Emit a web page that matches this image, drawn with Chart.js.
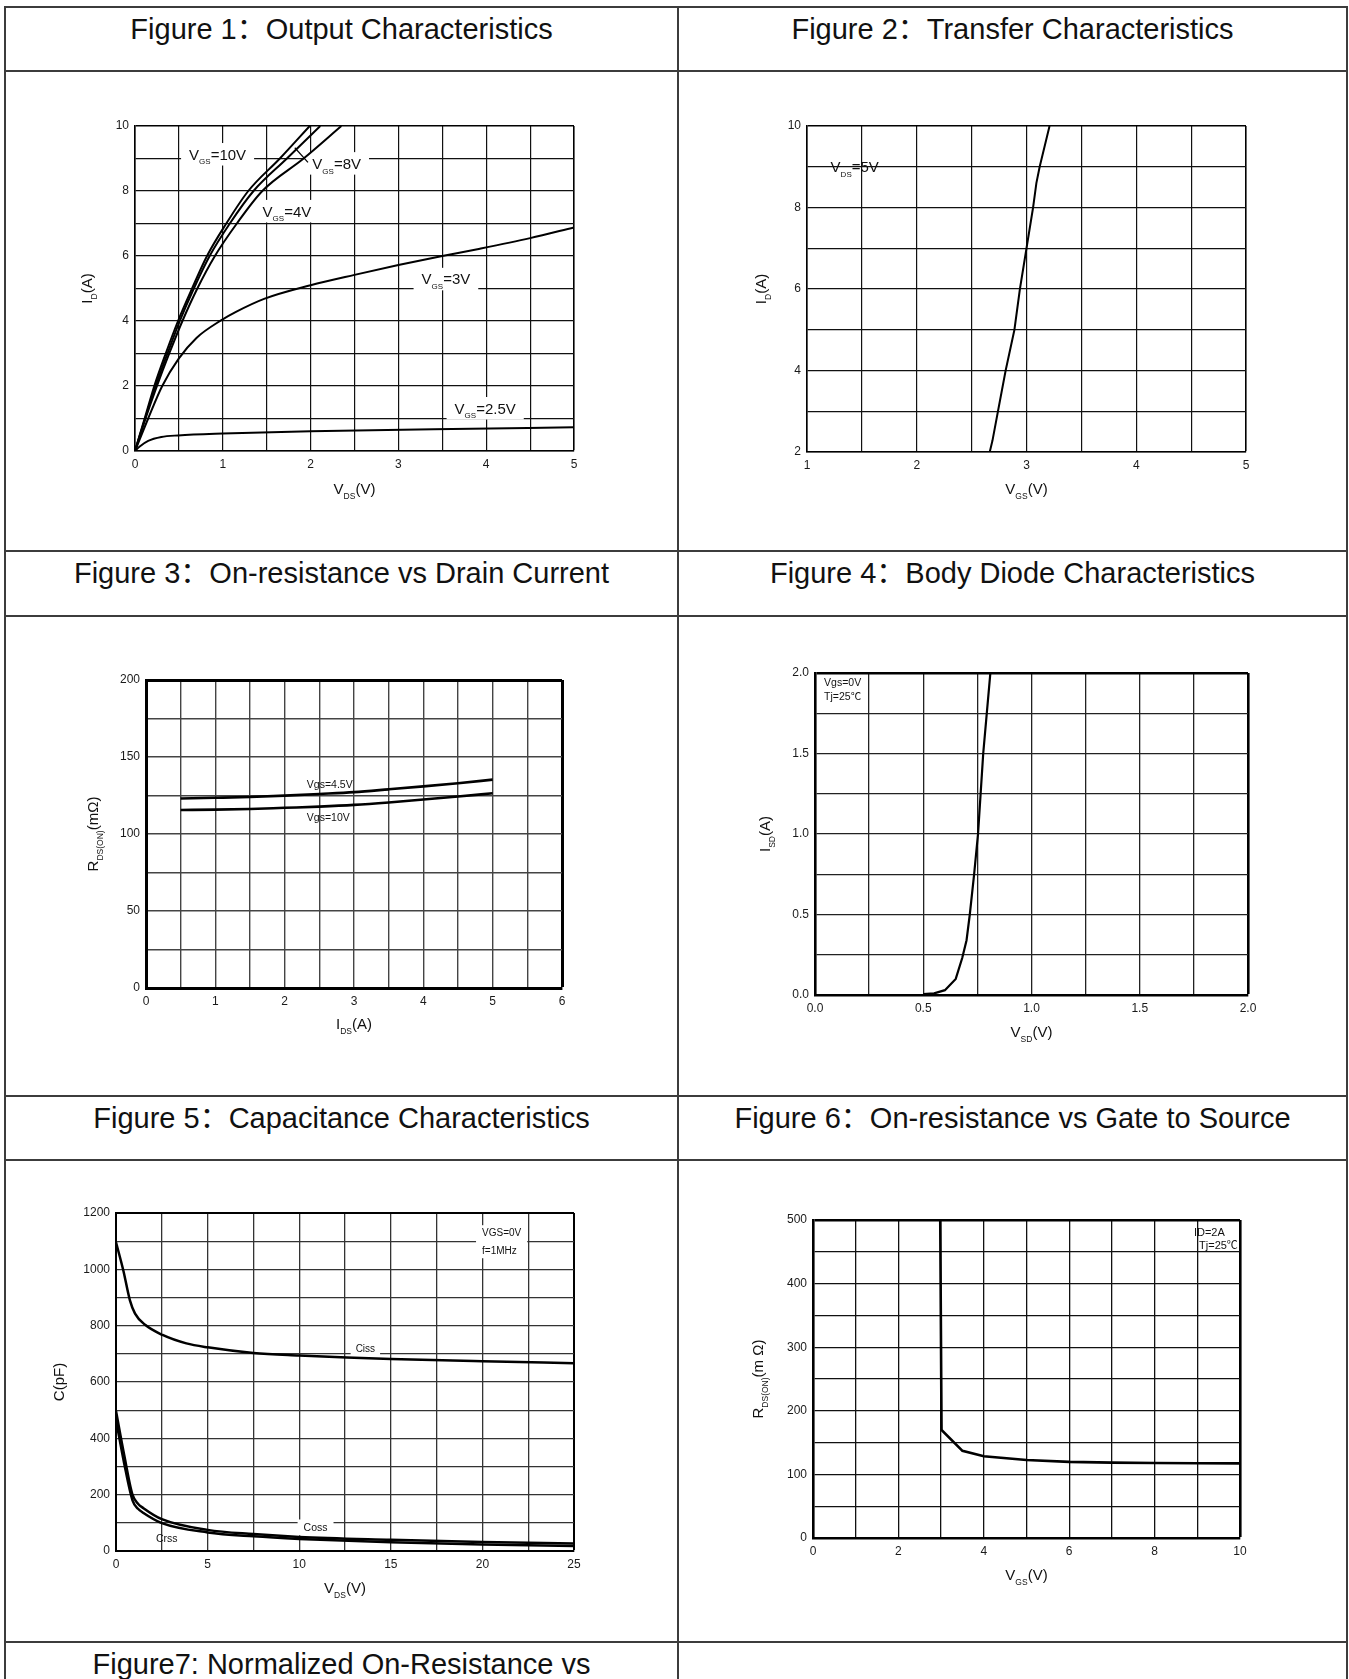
<!DOCTYPE html>
<html lang="en">
<head>
<meta charset="UTF-8">
<title>MOSFET typical characteristics</title>
<script src="https://cdn.jsdelivr.net/npm/chart.js@4.4.1/dist/chart.umd.min.js"></script>
<style>
  html, body { margin: 0; padding: 0; background: #fff; overflow: hidden; }
  #page { position: relative; width: 1349px; height: 1679px; overflow: hidden;
          font-family: "Liberation Sans", Arial, "Noto Sans CJK SC", sans-serif; color: #111; }
  .hl { position: absolute; left: 4px; width: 1344px; height: 2px; background: #3c3c3c; }
  .vl { position: absolute; top: 6px; width: 2px; height: 1673px; background: #3c3c3c; }
  .title { position: absolute; height: 34px; line-height: 34px; font-size: 29px; text-align: center; white-space: nowrap; }
  canvas { position: absolute; }
</style>
</head>
<body>
<div id="page">
  <div class="hl" style="top:6px"></div>
  <div class="hl" style="top:70px"></div>
  <div class="hl" style="top:550px"></div>
  <div class="hl" style="top:615px"></div>
  <div class="hl" style="top:1095px"></div>
  <div class="hl" style="top:1159px"></div>
  <div class="hl" style="top:1641px"></div>
  <div class="vl" style="left:4px"></div>
  <div class="vl" style="left:677px"></div>
  <div class="vl" style="left:1346px"></div>

  <div class="title" style="left:5px;width:673px;top:12px">Figure 1：Output Characteristics</div>
  <div class="title" style="left:678px;width:669px;top:12px">Figure 2：Transfer Characteristics</div>
  <div class="title" style="left:5px;width:673px;top:556px">Figure 3：On-resistance vs Drain Current</div>
  <div class="title" style="left:678px;width:669px;top:556px">Figure 4：Body Diode Characteristics</div>
  <div class="title" style="left:5px;width:673px;top:1101px">Figure 5：Capacitance Characteristics</div>
  <div class="title" style="left:678px;width:669px;top:1101px">Figure 6：On-resistance vs Gate to Source</div>
  <div class="title" style="left:5px;width:673px;top:1647px">Figure7: Normalized On-Resistance vs</div>

  <canvas id="fig1"></canvas>
  <canvas id="fig2"></canvas>
  <canvas id="fig3"></canvas>
  <canvas id="fig4"></canvas>
  <canvas id="fig5"></canvas>
  <canvas id="fig6"></canvas>
</div>

<script>
// ---- data ----
// Fig 1: [V_DS (V), I_D (A)] per V_GS
const outVgs10 = [[0,0],[0.11,1],[0.22,2],[0.35,3],[0.49,4],[0.65,5],[0.82,6],[1.04,7],[1.29,8],[1.65,9],[1.99,10]];
const outVgs8  = [[0,0],[0.115,1],[0.235,2],[0.37,3],[0.51,4],[0.67,5],[0.85,6],[1.08,7],[1.35,8],[1.73,9],[2.11,10]];
const outVgs4  = [[0,0],[0.12,1],[0.25,2],[0.39,3],[0.54,4],[0.71,5],[0.91,6],[1.16,7],[1.45,8],[1.92,9],[2.35,10]];
const outVgs3  = [[0,0],[0.15,1],[0.31,2],[0.5,2.85],[0.7,3.48],[0.98,4.02],[1.15,4.28],[1.47,4.68],[2.0,5.1],[2.5,5.42],[3.0,5.72],[3.5,6.0],[3.9,6.21],[4.5,6.55],[5,6.88]];
const outVgs25 = [[0,0],[0.05,0.13],[0.15,0.31],[0.3,0.43],[0.49,0.48],[1,0.54],[2,0.61],[3.4,0.67],[5,0.73]];
const outXTicks = [0, 1, 2, 3, 4, 5];
const outYTicks = [0, 2, 4, 6, 8, 10];

// Fig 2: [V_GS (V), I_D (A)] at V_DS=5V
const transfer = [[2.665,2],[2.69,2.28],[2.74,3],[2.81,4],[2.89,5],[2.94,6],[3.0,7],[3.06,8],[3.09,8.6],[3.12,9],[3.21,10]];
const trXTicks = [1, 2, 3, 4, 5];
const trYTicks = [2, 4, 6, 8, 10];

// Fig 3: I_DS (A) -> R_DS(on) (mOhm)
const rdsCurrent = [0.5, 1, 1.5, 2, 2.5, 3, 3.5, 4, 4.5, 5];
const rdsVgs45   = [123.1, 123.5, 124, 124.9, 126, 127.2, 129, 130.9, 133, 135.3];
const rdsVgs10   = [115.6, 115.8, 116.2, 117, 117.8, 118.9, 120.5, 122.4, 124.3, 126.5];
const rdsXTicks = [0, 1, 2, 3, 4, 5, 6];
const rdsYTicks = [0, 50, 100, 150, 200];

// Fig 4: [V_SD (V), I_SD (A)]
const diode = [[0.5,0.005],[0.55,0.01],[0.6,0.03],[0.65,0.1],[0.68,0.23],[0.7,0.34],[0.715,0.5],[0.735,0.75],[0.753,1.0],[0.777,1.5],[0.81,2.0]];
const diXTicks = [0, 0.5, 1, 1.5, 2];
const diYTicks = [0, 0.5, 1, 1.5, 2];

// Fig 5: [V_DS (V), C (pF)]
const ciss = [[0,1096],[0.4,996],[0.76,890],[1.04,843],[1.59,803],[2.54,767],[3.84,737],[5,723],[7.5,703],[10,694],[12.6,687],[15,682],[20,674],[25,667]];
const coss = [[0,497],[0.45,340],[0.9,200],[1.2,168],[1.5,152],[2.5,113],[5,75],[7.5,60],[10,50],[15,40],[20,32],[25,27]];
const crss = [[0,465],[0.45,310],[0.9,180],[1.2,150],[1.5,135],[2.5,99],[5,66],[7.5,52],[10,43],[15,31],[20,23],[25,18]];
const capXTicks = [0, 5, 10, 15, 20, 25];
const capYTicks = [0, 200, 400, 600, 800, 1000, 1200];

// Fig 6: [V_GS (V), R_DS(on) (mOhm)] at I_D=2A
const rdsGate = [[2.98,500],[3.01,170],[3.5,137],[4,128.5],[5,122.6],[6,119.7],[7,118.5],[8,117.9],[9,117.5],[10,117.3]];
const rgXTicks = [0, 2, 4, 6, 8, 10];
const rgYTicks = [0, 100, 200, 300, 400, 500];

// ---- helpers ----
const FONT = '"Liberation Sans", Arial, "Noto Sans CJK SC", sans-serif';
const pairs = a => a.map(p => ({ x: p[0], y: p[1] }));
const zipXY = (xs, ys) => xs.map((x, i) => ({ x: x, y: ys[i] }));

// "V_{GS}=10V" -> [["V",false],["GS",true],["=10V",false]]
function rich(t) {
  const parts = [], re = /_\{([^}]*)\}/g;
  let last = 0, m;
  while ((m = re.exec(t))) {
    if (m.index > last) parts.push([t.slice(last, m.index), false]);
    parts.push([m[1], true]);
    last = re.lastIndex;
  }
  if (last < t.length) parts.push([t.slice(last), false]);
  return parts;
}
function richWidth(ctx, parts, size, sub) {
  let w = 0;
  for (const [s, isSub] of parts) { ctx.font = (isSub ? sub : size) + 'px ' + FONT; w += ctx.measureText(s).width; }
  return w;
}
function drawRich(ctx, parts, x, cy, size, sub) {
  const base = cy + size * 0.36;
  for (const [s, isSub] of parts) {
    ctx.font = (isSub ? sub : size) + 'px ' + FONT;
    ctx.fillText(s, x, isSub ? base + size * 0.32 : base);
    x += ctx.measureText(s).width;
  }
}

function noteGeom(ctx, n, sx, sy) {
  const lines = [].concat(n.t).map(rich);
  const size = n.size || 11, sub = n.sub || 8;
  const w = Math.max(...lines.map(p => richWidth(ctx, p, size, sub)));
  let x = sx.getPixelForValue(n.x);
  if (n.align === 'right') x -= w;
  return { lines, size, sub, w, x, y: sy.getPixelForValue(n.y), gap: n.gap || size * 1.6 };
}

const notesPlugin = {
  id: 'notes',
  beforeDatasetsDraw(chart, args, o) {
    const ctx = chart.ctx;
    ctx.save();
    ctx.fillStyle = '#fff';
    (o.items || []).forEach(n => {
      if (n.box == null) return;
      const g = noteGeom(ctx, n, chart.scales.x, chart.scales.y);
      const h = (g.lines.length - 1) * g.gap + g.size * 1.5;
      ctx.fillRect(g.x - n.box, g.y - g.size * 0.75, g.w + 2 * n.box, h);
    });
    ctx.restore();
  },
  afterDatasetsDraw(chart, args, o) {
    const ctx = chart.ctx, sx = chart.scales.x, sy = chart.scales.y;
    ctx.save();
    ctx.fillStyle = '#111';
    ctx.textBaseline = 'alphabetic';
    (o.items || []).forEach(n => {
      const g = noteGeom(ctx, n, sx, sy);
      g.lines.forEach((p, i) => drawRich(ctx, p, g.x, g.y + i * g.gap, g.size, g.sub));
    });
    ctx.strokeStyle = '#000';
    ctx.lineWidth = 1.2;
    (o.leaders || []).forEach(l => {
      ctx.beginPath();
      ctx.moveTo(sx.getPixelForValue(l[0]), sy.getPixelForValue(l[1]));
      ctx.lineTo(sx.getPixelForValue(l[2]), sy.getPixelForValue(l[3]));
      ctx.stroke();
    });
    // axis titles
    const ca = chart.chartArea, size = 15, sub = 8.5;
    const px = rich(o.xTitle), py = rich(o.yTitle);
    drawRich(ctx, px, (ca.left + ca.right) / 2 - richWidth(ctx, px, size, sub) / 2, ca.bottom + o.xDy, size, sub);
    ctx.translate(ca.left + o.yDx, (ca.top + ca.bottom) / 2);
    ctx.rotate(-Math.PI / 2);
    drawRich(ctx, py, -richWidth(ctx, py, size, sub) / 2, 0, size, sub);
    ctx.restore();
  }
};

const YW = 40, XH = 30;

function axis(a, dir, c) {
  const near = (u, v) => Math.abs(u - v) < 1e-6;
  return {
    type: 'linear', min: a.min, max: a.max,
    afterFit: s => { if (dir === 'x') s.height = XH; else s.width = YW; },
    ticks: {
      stepSize: a.step, autoSkip: false, maxRotation: 0, padding: 6,
      color: '#1a1a1a', font: { family: FONT, size: 12 },
      callback: v => a.labels.some(m => near(m, v)) ? (a.dec ? v.toFixed(a.dec) : String(Math.round(v))) : ''
    },
    grid: {
      drawTicks: false,
      color: ctx => (ctx.tick && near(ctx.tick.value, a.max)) ? '#000' : c.gridColor,
      lineWidth: ctx => (ctx.tick && near(ctx.tick.value, a.max)) ? c.frame : c.gridW
    },
    border: { color: '#000', width: c.frame }
  };
}

function makeChart(id, cell, plot, c) {
  const cv = document.getElementById(id);
  cv.width = cell.w; cv.height = cell.h;
  cv.style.left = cell.x + 'px'; cv.style.top = cell.y + 'px';
  return new Chart(cv, {
    type: 'scatter',
    data: {
      datasets: c.series.map(s => ({
        data: s.data, showLine: true, fill: false,
        borderColor: '#000', borderWidth: s.w || 2, pointRadius: 0,
        tension: 0, cubicInterpolationMode: c.smooth ? 'monotone' : 'default'
      }))
    },
    options: {
      responsive: false, animation: false, events: [],
      layout: { padding: {
        left: plot.l - cell.x - YW, top: plot.t - cell.y,
        right: cell.x + cell.w - plot.r, bottom: cell.y + cell.h - plot.b - XH
      } },
      plugins: {
        legend: { display: false }, tooltip: { enabled: false },
        notes: { items: c.notes, leaders: c.leaders, xTitle: c.xTitle, yTitle: c.yTitle, xDy: c.xDy, yDx: c.yDx }
      },
      scales: { x: axis(c.x, 'x', c), y: axis(c.y, 'y', c) }
    },
    plugins: [notesPlugin]
  });
}

const L1 = { x: 6, y: 72, w: 671, h: 478 },  R1 = { x: 680, y: 72, w: 666, h: 478 };
const L2 = { x: 6, y: 617, w: 671, h: 478 }, R2 = { x: 680, y: 617, w: 666, h: 478 };
const L3 = { x: 6, y: 1161, w: 671, h: 480 }, R3 = { x: 680, y: 1161, w: 666, h: 480 };

makeChart('fig1', L1, { l: 135, t: 126, r: 574, b: 451 }, {
  x: { min: 0, max: 5, step: 0.5, labels: outXTicks },
  y: { min: 0, max: 10, step: 1, labels: outYTicks },
  frame: 1.6, gridW: 1.2, gridColor: '#111', smooth: true,
  series: [{ data: pairs(outVgs10) }, { data: pairs(outVgs8) }, { data: pairs(outVgs4) },
           { data: pairs(outVgs3) }, { data: pairs(outVgs25) }],
  xTitle: 'V_{DS}(V)', yTitle: 'I_{D}(A)', xDy: 37.5, yDx: -48.5,
  notes: [
    { x: 0.616, y: 9.13, t: 'V_{GS}=10V', size: 15, box: 8 },
    { x: 2.02, y: 8.85, t: 'V_{GS}=8V', size: 15, box: 8 },
    { x: 1.453, y: 7.38, t: 'V_{GS}=4V', size: 15, box: 8 },
    { x: 3.264, y: 5.29, t: 'V_{GS}=3V', size: 15, box: 8 },
    { x: 3.64, y: 1.315, t: 'V_{GS}=2.5V', size: 15, box: 8 }
  ],
  leaders: [[1.82, 9.33, 1.97, 8.88]]
});

makeChart('fig2', R1, { l: 807, t: 126, r: 1246, b: 452 }, {
  x: { min: 1, max: 5, step: 0.5, labels: trXTicks },
  y: { min: 2, max: 10, step: 1, labels: trYTicks },
  frame: 1.6, gridW: 1.2, gridColor: '#111',
  series: [{ data: pairs(transfer) }],
  xTitle: 'V_{GS}(V)', yTitle: 'I_{D}(A)', xDy: 36.5, yDx: -46.5,
  notes: [{ x: 1.215, y: 9.01, t: 'V_{DS}=5V', size: 15 }]
});

makeChart('fig3', L2, { l: 146, t: 680, r: 562, b: 988 }, {
  x: { min: 0, max: 6, step: 0.5, labels: rdsXTicks },
  y: { min: 0, max: 200, step: 25, labels: rdsYTicks },
  frame: 3, gridW: 1.4, gridColor: '#444', smooth: true,
  series: [{ data: zipXY(rdsCurrent, rdsVgs45), w: 2.6 }, { data: zipXY(rdsCurrent, rdsVgs10), w: 2.6 }],
  xTitle: 'I_{DS}(A)', yTitle: 'R_{DS(ON)}(mΩ)', xDy: 36, yDx: -53,
  notes: [
    { x: 2.32, y: 132.3, t: 'Vgs=4.5V', size: 10.5 },
    { x: 2.32, y: 111.1, t: 'Vgs=10V', size: 10.5 }
  ]
});

makeChart('fig4', R2, { l: 815, t: 673, r: 1248, b: 995 }, {
  x: { min: 0, max: 2, step: 0.25, labels: diXTicks, dec: 1 },
  y: { min: 0, max: 2, step: 0.25, labels: diYTicks, dec: 1 },
  frame: 2.6, gridW: 1.3, gridColor: '#222',
  series: [{ data: pairs(diode), w: 2.2 }],
  xTitle: 'V_{SD}(V)', yTitle: 'I_{SD}(A)', xDy: 36.5, yDx: -50.5,
  notes: [
    { x: 0.042, y: 1.941, t: 'Vgs=0V', size: 10.5 },
    { x: 0.042, y: 1.857, t: 'Tj=25℃', size: 10.5 }
  ]
});

makeChart('fig5', L3, { l: 116, t: 1213, r: 574, b: 1551 }, {
  x: { min: 0, max: 25, step: 2.5, labels: capXTicks },
  y: { min: 0, max: 1200, step: 100, labels: capYTicks },
  frame: 2, gridW: 1.3, gridColor: '#333', smooth: true,
  series: [{ data: pairs(ciss), w: 2.5 }, { data: pairs(coss), w: 2.5 }, { data: pairs(crss), w: 2.5 }],
  xTitle: 'V_{DS}(V)', yTitle: 'C(pF)', xDy: 37, yDx: -57.5,
  notes: [
    { x: 19.98, y: 1130, t: ['VGS=0V', 'f=1MHz'], size: 10, gap: 18, box: 6 },
    { x: 13.08, y: 719, t: 'Ciss', size: 10, box: 5 },
    { x: 10.24, y: 84, t: 'Coss', size: 10.5, box: 6 },
    { x: 2.18, y: 47, t: 'Crss', size: 10.5 }
  ]
});

makeChart('fig6', R3, { l: 813, t: 1220, r: 1240, b: 1538 }, {
  x: { min: 0, max: 10, step: 1, labels: rgXTicks },
  y: { min: 0, max: 500, step: 50, labels: rgYTicks },
  frame: 2.6, gridW: 1.3, gridColor: '#111',
  series: [{ data: pairs(rdsGate), w: 2.6 }],
  xTitle: 'V_{GS}(V)', yTitle: 'R_{DS(ON)}(m Ω)', xDy: 36.5, yDx: -55,
  notes: [
    { x: 8.92, y: 481, t: 'ID=2A', size: 11 },
    { x: 9.95, y: 460.7, t: 'Tj=25℃', size: 11, align: 'right' }
  ]
});
</script>
</body>
</html>
